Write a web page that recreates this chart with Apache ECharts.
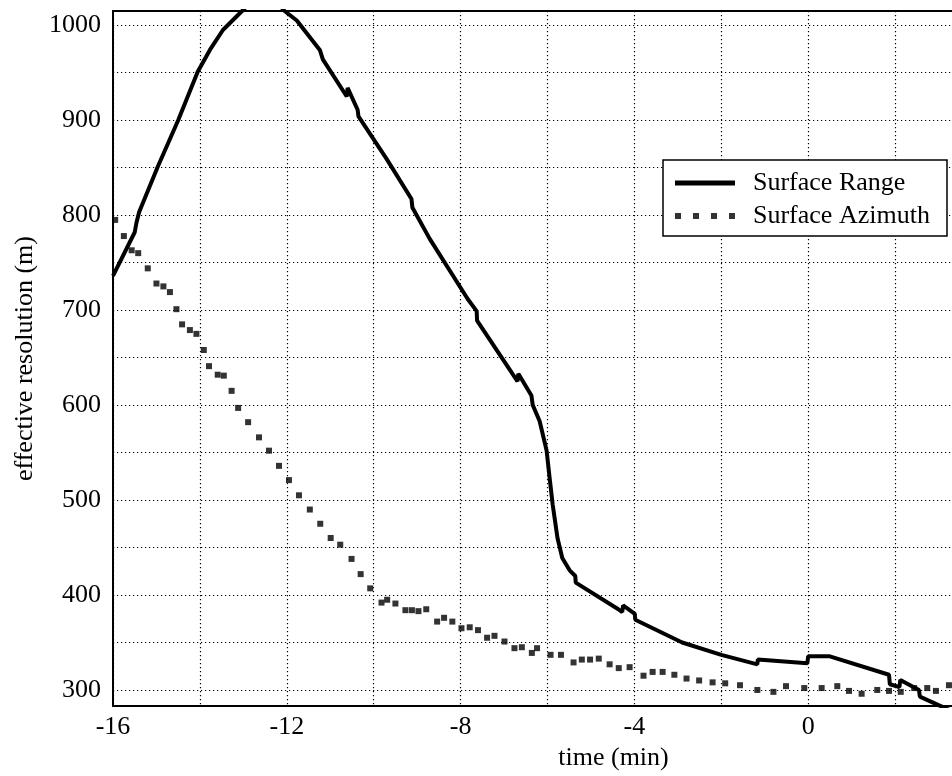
<!DOCTYPE html>
<html><head><meta charset="utf-8">
<script src="https://cdn.jsdelivr.net/npm/echarts@6/dist/echarts.min.js"></script>
<style>html,body{margin:0;padding:0;background:#fff}#c{width:952px;height:776px}</style>
</head><body><div id="c"></div>
<script>
const seriesNames = ['Surface Range', 'Surface Azimuth'];
const xTicks = [-16,-14,-12,-10,-8,-6,-4,-2,0,2];
const xLabels = [-16,-12,-8,-4,0];
const yTicks = [300,350,400,450,500,550,600,650,700,750,800,850,900,950,1000];
const yLabels = [300,400,500,600,700,800,900,1000];

const rangeData = [
[-16,736],[-15.5,782],[-15.46,792],[-15.4,803],[-14.97,851],[-14.5,900],[-14.05,951],[-13.77,974],
[-13.47,995],[-13.03,1015],[-12.75,1028],[-12.5,1031],[-12.25,1025],[-12.05,1015],[-11.77,1005],
[-11.24,974],[-11.17,964],[-10.62,925],[-10.6,934],[-10.37,911],[-10.35,904],[-9.7,859],[-9.13,817],
[-9.11,808],[-8.71,775],[-7.84,712],[-7.63,699],[-7.62,689],[-6.69,625],[-6.67,633],[-6.37,610],
[-6.34,600],[-6.18,583],[-6.02,552],[-5.95,523],[-5.88,495],[-5.77,460],[-5.66,439],[-5.49,426],
[-5.36,420],[-5.35,413],[-4.37,385],[-4.28,382],[-4.26,389],[-3.99,380],[-3.98,374],[-2.9,350],
[-2.0,337],[-1.17,327],[-1.16,332],[-0.02,328],[0.0,335.6],[0.48,335.6],[1.86,316],[1.88,306],
[2.1,303],[2.12,310.5],[2.55,300],[2.57,293],[3.0,284],[3.3,278]
];

const azimuthData = [
[-15.95,795],[-15.75,778],[-15.57,763],[-15.42,760],[-15.2,744],[-15.0,728],[-14.84,725],[-14.69,719],
[-14.54,701],[-14.41,685],[-14.23,679],[-14.08,675],[-13.91,658],[-13.79,641],[-13.59,632],[-13.45,631],
[-13.27,615],[-13.12,597],[-12.89,582],[-12.64,566],[-12.41,552],[-12.18,536],[-11.95,521],[-11.72,505],
[-11.47,490],[-11.23,475],[-10.99,460],[-10.77,453],[-10.51,438],[-10.3,422],[-10.08,407],[-9.82,392],
[-9.69,395],[-9.5,391],[-9.27,384],[-9.12,384],[-8.97,383],[-8.79,385],[-8.54,372],[-8.38,376],
[-8.19,372],[-7.98,365],[-7.79,366],[-7.6,363],[-7.39,355],[-7.22,357],[-6.99,351],[-6.76,344],
[-6.59,345],[-6.36,339],[-6.24,344],[-5.93,337],[-5.69,337],[-5.4,329],[-5.21,332],[-5.02,332],
[-4.82,333],[-4.57,327],[-4.36,323],[-4.11,324],[-3.79,315],[-3.58,319],[-3.35,319],[-3.08,316],
[-2.8,312],[-2.51,310],[-2.2,308],[-1.91,307],[-1.57,305],[-1.17,300],[-0.8,298],[-0.51,304],
[-0.09,302],[0.31,302],[0.67,304],[0.94,299],[1.23,296],[1.59,300],[1.86,299],[2.13,298],
[2.44,302],[2.74,302],[2.94,299],[3.24,305]
];

const FONT = 'Liberation Serif';
const chart = echarts.init(document.getElementById('c'), null, {renderer:'canvas'});
const gridLine = {show:true, lineStyle:{color:'#000', width:1.2, type:[1.2,2.8]}};
chart.setOption({
  animation:false,
  backgroundColor:'#fff',
  grid:{left:113, top:11, right:0, bottom:67, containLabel:false},
  xAxis:[{
    type:'value', min:-16, max:3.31, position:'bottom',
    name:'time (min)', nameLocation:'middle', nameGap:36,
    nameTextStyle:{fontFamily:FONT, fontSize:26, color:'#000', padding:[0,0,0,162]},
    axisLine:{show:true, onZero:false, lineStyle:{color:'#000', width:2}},
    axisTick:{show:false, customValues:xTicks},
    axisLabel:{customValues:xLabels, fontFamily:FONT, fontSize:26, color:'#000', margin:8,
      formatter:v => String(v)},
    splitLine:gridLine
  },{
    type:'value', min:-16, max:3.31, position:'top',
    axisLine:{show:true, onZero:false, lineStyle:{color:'#000', width:2}},
    axisTick:{show:false}, axisLabel:{show:false}, splitLine:{show:false}
  }],
  yAxis:{
    type:'value', min:283, max:1015,
    name:'effective resolution (m)', nameLocation:'middle', nameGap:70,
    nameTextStyle:{fontFamily:FONT, fontSize:26, color:'#000'},
    axisLine:{show:true, onZero:false, lineStyle:{color:'#000', width:2}},
    axisTick:{show:false, customValues:yTicks},
    axisLabel:{customValues:yLabels, fontFamily:FONT, fontSize:26, color:'#000', margin:12,
      formatter:v => String(v)},
    splitLine:gridLine
  },
  legend:[{
    data:[{name:seriesNames[0], icon:'rect'}],
    left:675, top:168, itemWidth:60, itemHeight:5, z:10, padding:0,
    textStyle:{fontFamily:FONT, fontSize:26, color:'#000', lineHeight:30, padding:[0,0,0,13]}
  },{
    data:[{name:seriesNames[1], icon:'path://M0,0h6v6h-6z M18,0h6v6h-6z M36,0h6v6h-6z M54,0h6v6h-6z'}],
    left:675, top:201, itemWidth:60, itemHeight:6, z:10, padding:0,
    itemStyle:{color:'#000'},
    textStyle:{fontFamily:FONT, fontSize:26, color:'#000', lineHeight:30, padding:[0,0,0,13]}
  }],
  graphic:[{type:'rect', z:9, shape:{x:663, y:160, width:284, height:76},
    style:{fill:'#fff', stroke:'#000', lineWidth:1.5}}],
  series:[{
    name:seriesNames[0], type:'line', data:rangeData, showSymbol:false, symbol:'none',
    clip:true, lineStyle:{color:'#000', width:4}, itemStyle:{color:'#000'}, z:3
  },{
    name:seriesNames[1], type:'scatter', data:azimuthData, symbol:'rect', symbolSize:6,
    itemStyle:{color:'#000'}, z:3
  }]
});
</script></body></html>
